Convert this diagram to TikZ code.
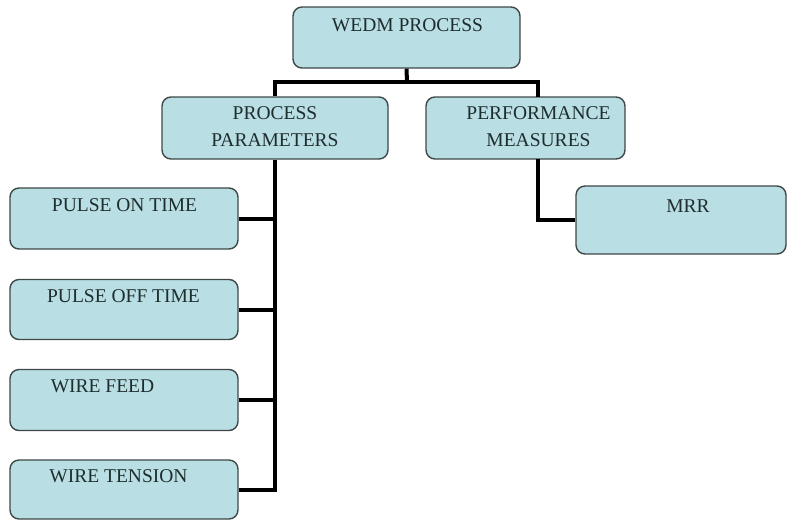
\documentclass[tikz,border=0pt]{standalone}
\usepackage{fontspec}
\setmainfont{Liberation Serif}
\definecolor{boxfill}{HTML}{B9DEE4}
\definecolor{boxline}{HTML}{3E4848}
\definecolor{txt}{HTML}{1E2D2D}
\begin{document}
\begin{tikzpicture}[x=1pt,y=-1pt,
  box/.style={draw=boxline,line width=1.4pt,fill=boxfill,rounded corners=9pt,inner sep=0pt},
  lbl/.style={text=txt,inner sep=0pt,anchor=base,font=\fontsize{19.5}{27}\selectfont,align=center},
  conn/.style={draw=black,line width=4pt}]
\useasboundingbox (0,0) rectangle (791,520);
% boxes
\node[box,minimum width=227pt,minimum height=61pt] (wedm) at (406.5,37.5) {};
\node[box,minimum width=226pt,minimum height=62pt] (pp) at (275,128) {};
\node[box,minimum width=199pt,minimum height=62pt] (pm) at (525.5,128) {};
\node[box,minimum width=210pt,minimum height=68pt] (mrr) at (681,220) {};
\node[box,minimum width=228pt,minimum height=61pt] (pon) at (124,218.5) {};
\node[box,minimum width=228pt,minimum height=60pt] (poff) at (124,309.5) {};
\node[box,minimum width=228pt,minimum height=61pt] (wf) at (124,400) {};
\node[box,minimum width=228pt,minimum height=59pt] (wt) at (124,489.5) {};
% texts
\node[lbl] (wedmt) at (407.5,31) {WEDM PROCESS};
\node[lbl] (ppt) at (275,146) {PROCESS\\PARAMETERS};
\node[lbl] (pmt) at (538.5,146) {PERFORMANCE\\MEASURES};
\node[lbl] (mrrt) at (688,212) {MRR};
\node[lbl] (pont) at (124.5,211) {PULSE ON TIME};
\node[lbl] (pofft) at (123.5,302) {PULSE OFF TIME};
\node[lbl] (wft) at (102.5,392) {WIRE FEED};
\node[lbl] (wtt) at (118.5,482) {WIRE TENSION};
% junctions
\coordinate (bar) at (407,82);
\coordinate (pmtop) at (538,97);
\coordinate (pmbot) at (538,159);
% connectors
\draw[conn] (wedm.south) -- (bar);
\draw[conn] (pp.north) |- (bar) -| (pmtop);
\draw[conn] (pp.south) |- (wt.east);
\draw[conn] (pon.east) -- (pon.east -| pp.south);
\draw[conn] (poff.east) -- (poff.east -| pp.south);
\draw[conn] (wf.east) -- (wf.east -| pp.south);
\draw[conn] (pmbot) |- (mrr.west);
\end{tikzpicture}
\end{document}
